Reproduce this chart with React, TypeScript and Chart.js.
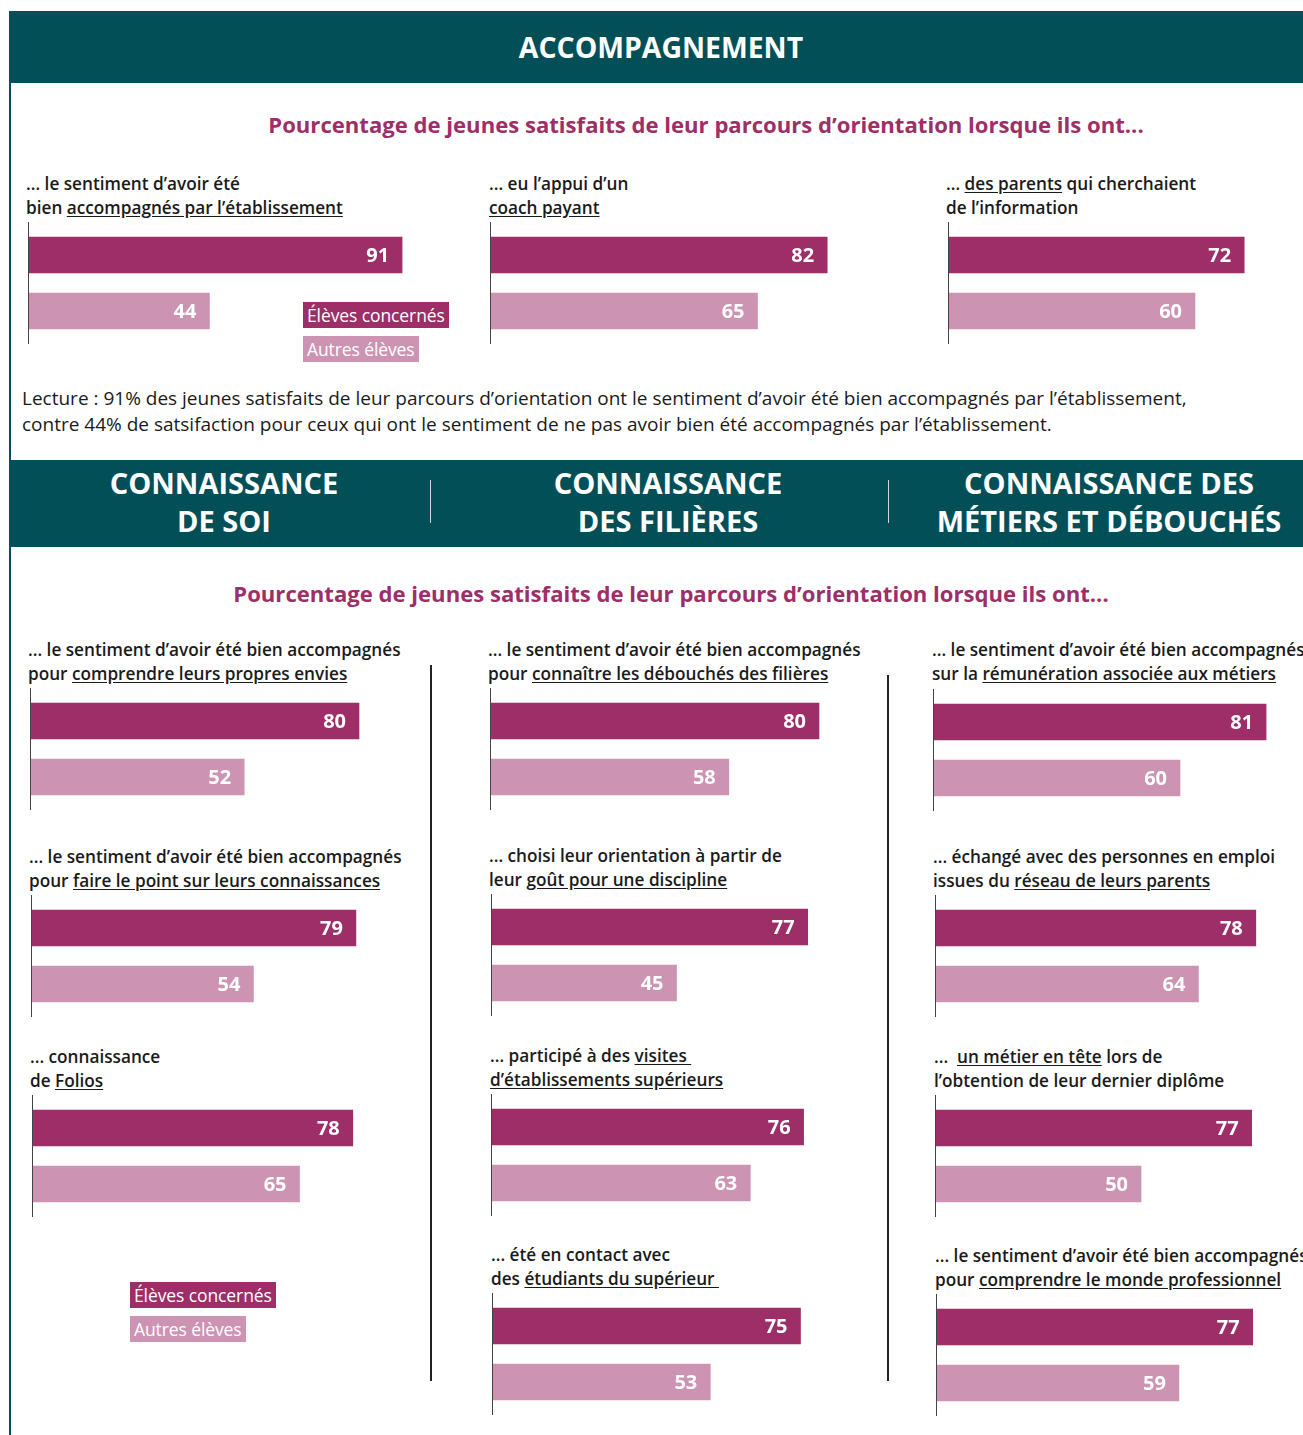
import React, { useEffect, useRef } from "react";
import { Chart, registerables } from "chart.js";

Chart.register(...registerables);

// ---------- DATA ----------
const seriesNames = ["Élèves concernés", "Autres élèves"];

const topTitle = "ACCOMPAGNEMENT";
const subtitle = "Pourcentage de jeunes satisfaits de leur parcours d’orientation lorsque ils ont...";
const topLabels = [
  ["... le sentiment d’avoir été", "bien _accompagnés par l’établissement_"],
  ["... eu l’appui d’un", "_coach payant_"],
  ["... _des parents_ qui cherchaient", "de l’information"],
];
const topConcernes = [91, 82, 72];
const topAutres = [44, 65, 60];

const lecture = [
  "Lecture : 91% des jeunes satisfaits de leur parcours d’orientation ont le sentiment d’avoir été bien accompagnés par l’établissement,",
  "contre 44% de satsifaction pour ceux qui ont le sentiment de ne pas avoir bien été accompagnés par l’établissement.",
];

const sectionTitles = [
  ["CONNAISSANCE", "DE SOI"],
  ["CONNAISSANCE", "DES FILIÈRES"],
  ["CONNAISSANCE DES", "MÉTIERS ET DÉBOUCHÉS"],
];

const soiLabels = [
  ["... le sentiment d’avoir été bien accompagnés", "pour _comprendre leurs propres envies_"],
  ["... le sentiment d’avoir été bien accompagnés", "pour _faire le point sur leurs connaissances_"],
  ["... connaissance", "de _Folios_"],
];
const soiConcernes = [80, 79, 78];
const soiAutres = [52, 54, 65];

const filieresLabels = [
  ["... le sentiment d’avoir été bien accompagnés", "pour _connaître les débouchés des filières_"],
  ["... choisi leur orientation à partir de", "leur _goût pour une discipline_"],
  ["... participé à des _visites _", "_d’établissements supérieurs_"],
  ["... été en contact avec", "des _étudiants du supérieur _"],
];
const filieresConcernes = [80, 77, 76, 75];
const filieresAutres = [58, 45, 63, 53];

const metiersLabels = [
  ["... le sentiment d’avoir été bien accompagnés", "sur la _rémunération associée aux métiers_"],
  ["... échangé avec des personnes en emploi", "issues du _réseau de leurs parents_"],
  ["...  _un métier en tête_ lors de", "l’obtention de leur dernier diplôme"],
  ["... le sentiment d’avoir été bien accompagnés", "pour _comprendre le monde professionnel_"],
];
const metiersConcernes = [81, 78, 77, 77];
const metiersAutres = [60, 64, 50, 59];

// ---------- STYLE ----------
const TEAL = "#034f58";
const DARK = "#9e2e67";
const LIGHT = "#cd93b3";
const TEXT = "#1a1a1a";
const FONT = "'Open Sans', 'Noto Sans', sans-serif";

const axisLinePlugin = {
  id: "axisLine",
  beforeDatasetsDraw(chart: any) {
    const { ctx, chartArea } = chart;
    ctx.save();
    ctx.strokeStyle = "#444";
    ctx.lineWidth = 1;
    ctx.beginPath();
    ctx.moveTo(chartArea.left - 0.5, 0);
    ctx.lineTo(chartArea.left - 0.5, chart.height);
    ctx.stroke();
    ctx.restore();
  },
};

const valuePlugin = {
  id: "valueLabels",
  afterDatasetsDraw(chart: any) {
    const { ctx } = chart;
    const meta = chart.getDatasetMeta(0);
    const data = chart.data.datasets[0].data as number[];
    ctx.save();
    ctx.fillStyle = "#ffffff";
    ctx.font = `bold 20px ${FONT}`;
    ctx.textAlign = "right";
    ctx.textBaseline = "middle";
    meta.data.forEach((bar: any, i: number) => {
      ctx.fillText(String(data[i]), bar.x - 13, bar.y + 1);
    });
    ctx.restore();
  },
};

function BarPanel({ values, left, top }: { values: number[]; left: number; top: number }) {
  const ref = useRef<HTMLCanvasElement | null>(null);
  useEffect(() => {
    if (!ref.current) return;
    const chart = new Chart(ref.current, {
      type: "bar",
      data: {
        labels: seriesNames,
        datasets: [
          {
            data: values,
            backgroundColor: [DARK, LIGHT],
            barThickness: 36,
            borderWidth: 0,
          },
        ],
      },
      options: {
        indexAxis: "y",
        animation: false,
        responsive: false,
        maintainAspectRatio: false,
        devicePixelRatio: 1,
        layout: { padding: { top: 5, bottom: 5, left: 1, right: 10 } },
        scales: {
          x: { display: false, min: 0, max: 100 },
          y: { display: false },
        },
        plugins: { legend: { display: false }, tooltip: { enabled: false } },
      },
      plugins: [axisLinePlugin, valuePlugin],
    } as any);
    return () => chart.destroy();
  }, [values]);
  return (
    <canvas
      ref={ref}
      width={421}
      height={122}
      style={{ position: "absolute", left, top, width: 421, height: 122 }}
    />
  );
}

function Rich({ text }: { text: string }) {
  const parts = text.split("_");
  return (
    <>
      {parts.map((p, i) =>
        i % 2 === 1 ? (
          <span key={i} style={{ textDecoration: "underline", textUnderlineOffset: 2 }}>
            {p}
          </span>
        ) : (
          <span key={i}>{p}</span>
        )
      )}
    </>
  );
}

function Label({ lines, left, cy }: { lines: string[]; left: number; cy: number }) {
  return (
    <div
      style={{
        position: "absolute",
        left,
        top: cy - 12,
        fontFamily: FONT,
        fontWeight: 600,
        fontSize: 17.2,
        lineHeight: "23.5px",
        color: TEXT,
        whiteSpace: "pre",
      }}
    >
      {lines.map((l, i) => (
        <div key={i}>
          <Rich text={l} />
        </div>
      ))}
    </div>
  );
}

function Legend({ left, top }: { left: number; top: number }) {
  const box = (bg: string, txt: string, t: number) => (
    <div
      style={{
        position: "absolute",
        left,
        top: t,
        height: 26,
        lineHeight: "26px",
        padding: "0 4px",
        background: bg,
        color: "#fff",
        fontFamily: FONT,
        fontSize: 17.5,
        letterSpacing: -0.1,
        whiteSpace: "nowrap",
      }}
    >
      {txt}
    </div>
  );
  return (
    <>
      {box(DARK, seriesNames[0], top)}
      {box(LIGHT, seriesNames[1], top + 34)}
    </>
  );
}

function Centered({ text, cx, cy, size, color, weight = 700, spacing = 0 }: any) {
  return (
    <div
      style={{
        position: "absolute",
        left: cx - 500,
        width: 1000,
        top: cy - size * 0.68,
        lineHeight: `${size * 1.3}px`,
        textAlign: "center",
        fontFamily: FONT,
        fontWeight: weight,
        fontSize: size,
        letterSpacing: spacing,
        color,
        whiteSpace: "nowrap",
      }}
    >
      {text}
    </div>
  );
}

export default function App() {
  const topPanels = [
    { lx: 26, ly: 184, ax: 28, at: 222 },
    { lx: 489, ly: 184, ax: 490, at: 222 },
    { lx: 946, ly: 184, ax: 948, at: 222 },
  ];
  const soiPos = [
    { lx: 28, ly: 650, ax: 30, at: 688 },
    { lx: 29, ly: 857, ax: 31, at: 895 },
    { lx: 30, ly: 1057, ax: 32, at: 1095 },
  ];
  const filPos = [
    { lx: 488, ly: 650, ax: 490, at: 688 },
    { lx: 489, ly: 856, ax: 491, at: 894 },
    { lx: 490, ly: 1056, ax: 491, at: 1094 },
    { lx: 491, ly: 1255, ax: 492, at: 1293 },
  ];
  const metPos = [
    { lx: 932, ly: 650, ax: 933, at: 689 },
    { lx: 933, ly: 857, ax: 935, at: 895 },
    { lx: 934, ly: 1057, ax: 935, at: 1095 },
    { lx: 935, ly: 1256, ax: 936, at: 1294 },
  ];

  return (
    <div
      style={{
        position: "absolute",
        left: 0,
        top: 0,
        width: 1303,
        height: 1435,
        overflow: "hidden",
        background: "#fff",
      }}
    >
      {/* frame */}
      <div style={{ position: "absolute", left: 9, top: 11, width: 2, height: 1424, background: TEAL }} />
      <div style={{ position: "absolute", left: 9, top: 11, width: 1294, height: 72, background: TEAL }} />
      <Centered text={topTitle} cx={661} cy={48} size={28.4} color="#fff" />
      <Centered text={subtitle} cx={706} cy={125} size={22.1} color={DARK} />

      {topPanels.map((p, i) => (
        <React.Fragment key={"t" + i}>
          <Label lines={topLabels[i]} left={p.lx} cy={p.ly} />
          <BarPanel values={[topConcernes[i], topAutres[i]]} left={p.ax} top={p.at} />
        </React.Fragment>
      ))}
      <Legend left={303} top={302} />

      <div
        style={{
          position: "absolute",
          left: 22,
          top: 385,
          fontFamily: FONT,
          fontSize: 19,
          lineHeight: "26px",
          color: TEXT,
          whiteSpace: "nowrap",
        }}
      >
        <div>{lecture[0]}</div>
        <div>{lecture[1]}</div>
      </div>

      {/* second band */}
      <div style={{ position: "absolute", left: 9, top: 460, width: 1294, height: 87, background: TEAL }} />
      {sectionTitles.map((t, i) => {
        const cx = [224, 668, 1109][i];
        return (
          <React.Fragment key={"s" + i}>
            <Centered text={t[0]} cx={cx} cy={484} size={29} color="#fff" />
            <Centered text={t[1]} cx={cx} cy={522} size={29} color="#fff" />
          </React.Fragment>
        );
      })}
      <div style={{ position: "absolute", left: 430, top: 480, width: 1, height: 43, background: "#cfd8da" }} />
      <div style={{ position: "absolute", left: 888, top: 480, width: 1, height: 43, background: "#cfd8da" }} />

      <Centered text={subtitle} cx={671} cy={594} size={22.1} color={DARK} />

      <div style={{ position: "absolute", left: 430, top: 665, width: 2, height: 716, background: "#222" }} />
      <div style={{ position: "absolute", left: 887, top: 675, width: 2, height: 706, background: "#222" }} />

      {soiPos.map((p, i) => (
        <React.Fragment key={"a" + i}>
          <Label lines={soiLabels[i]} left={p.lx} cy={p.ly} />
          <BarPanel values={[soiConcernes[i], soiAutres[i]]} left={p.ax} top={p.at} />
        </React.Fragment>
      ))}
      {filPos.map((p, i) => (
        <React.Fragment key={"b" + i}>
          <Label lines={filieresLabels[i]} left={p.lx} cy={p.ly} />
          <BarPanel values={[filieresConcernes[i], filieresAutres[i]]} left={p.ax} top={p.at} />
        </React.Fragment>
      ))}
      {metPos.map((p, i) => (
        <React.Fragment key={"c" + i}>
          <Label lines={metiersLabels[i]} left={p.lx} cy={p.ly} />
          <BarPanel values={[metiersConcernes[i], metiersAutres[i]]} left={p.ax} top={p.at} />
        </React.Fragment>
      ))}
      <Legend left={130} top={1282} />
    </div>
  );
}
